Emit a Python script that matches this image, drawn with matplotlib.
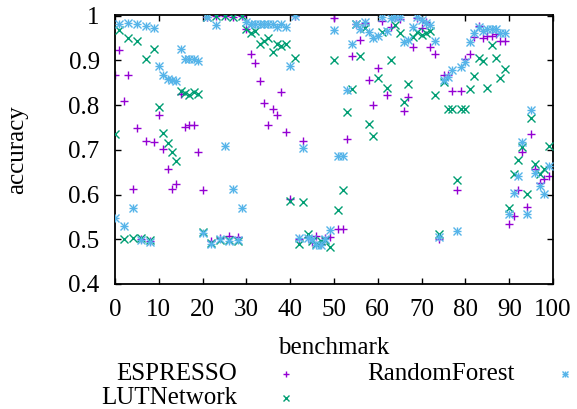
import numpy as np
import matplotlib
matplotlib.use("Agg")
import matplotlib.pyplot as plt
from matplotlib.lines import Line2D
from matplotlib.ticker import FormatStrFormatter

# accuracy per benchmark
espresso = [
    0.868, 0.924, 0.810, 0.866, 0.612, 0.749, 0.501, 0.719, 0.497, 0.717,
    0.778, 0.701, 0.657, 0.613, 0.623, 0.824, 0.751, 0.755, 0.755, 0.696,
    0.609, 0.997, 0.495, 0.998, 0.503, 0.998, 0.507, 0.997, 0.504, 0.998,
    0.970, 0.915, 0.894, 0.854, 0.805, 0.755, 0.790, 0.777, 0.828, 0.739,
    0.590, 0.999, 0.500, 0.720, 0.505, 0.493, 0.507, 0.490, 0.502, 0.506,
    0.994, 0.523, 0.524, 0.724, 0.910, 0.980, 0.946, 0.984, 0.856, 0.800,
    0.883, 0.988, 0.822, 0.975, 0.997, 0.992, 0.787, 0.817, 0.929, 0.995,
    0.973, 0.985, 0.930, 0.913, 0.500, 0.867, 0.867, 0.831, 0.610, 0.831,
    0.902, 0.913, 0.951, 0.977, 0.949, 0.954, 0.955, 0.958, 0.944, 0.942,
    0.535, 0.552, 0.609, 0.695, 0.571, 0.736, 0.658, 0.625, 0.634, 0.641,
]
lutnetwork = [
    0.735, 0.968, 0.500, 0.950, 0.503, 0.943, 0.503, 0.903, 0.498, 0.925,
    0.796, 0.737, 0.716, 0.696, 0.675, 0.832, 0.826, 0.823, 0.828, 0.825,
    0.516, 0.997, 0.492, 0.999, 0.498, 0.999, 0.498, 0.997, 0.496, 0.999,
    0.970, 0.960, 0.965, 0.936, 0.943, 0.949, 0.919, 0.936, 0.931, 0.936,
    0.586, 0.904, 0.490, 0.583, 0.511, 0.497, 0.490, 0.495, 0.498, 0.483,
    0.901, 0.565, 0.611, 0.784, 0.836, 0.980, 0.909, 0.971, 0.757, 0.731,
    0.861, 0.964, 0.837, 0.901, 0.979, 0.961, 0.807, 0.848, 0.952, 0.964,
    0.956, 0.961, 0.966, 0.822, 0.511, 0.852, 0.790, 0.790, 0.632, 0.790,
    0.790, 0.835, 0.865, 0.906, 0.899, 0.839, 0.934, 0.904, 0.861, 0.880,
    0.569, 0.646, 0.677, 0.707, 0.602, 0.772, 0.668, 0.645, 0.656, 0.709,
]
randomforest = [
    0.547, 0.981, 0.530, 0.984, 0.570, 0.980, 0.498, 0.976, 0.493, 0.973,
    0.887, 0.867, 0.857, 0.856, 0.854, 0.925, 0.903, 0.903, 0.903, 0.898,
    0.515, 0.997, 0.490, 0.978, 0.500, 0.709, 0.497, 0.612, 0.498, 0.570,
    0.986, 0.980, 0.980, 0.980, 0.980, 0.980, 0.980, 0.975, 0.980, 0.975,
    0.887, 0.999, 0.502, 0.704, 0.502, 0.500, 0.487, 0.487, 0.500, 0.520,
    0.968, 0.685, 0.685, 0.833, 0.937, 0.982, 0.970, 0.986, 0.964, 0.949,
    0.955, 0.997, 0.966, 0.995, 0.997, 0.997, 0.940, 0.945, 0.975, 0.997,
    0.990, 0.983, 0.978, 0.942, 0.506, 0.855, 0.862, 0.878, 0.518, 0.884,
    0.897, 0.940, 0.960, 0.974, 0.966, 0.970, 0.970, 0.970, 0.962, 0.960,
    0.557, 0.604, 0.641, 0.718, 0.557, 0.789, 0.647, 0.619, 0.601, 0.664,
]
benchmarks = np.arange(len(espresso))

plt.rcParams['font.family'] = ['Liberation Serif', 'DejaVu Serif']
plt.rcParams['font.size'] = 18

W, H = 577, 409
fig = plt.figure(figsize=(W / 100, H / 100), dpi=100)
ax = fig.add_axes([115 / W, 1 - 284 / H, 438 / W, 268.5 / H])

# gnuplot point types: 1 = plus, 2 = cross, 3 = plus and cross together
series = [
    ("ESPRESSO", espresso, "#9400d3", ["+"]),
    ("LUTNetwork", lutnetwork, "#009e73", ["x"]),
    ("RandomForest", randomforest, "#56b4e9", ["+", "x"]),
]
for i, (name, vals, col, mks) in enumerate(series):
    for mk in mks:
        ax.plot(benchmarks, vals, linestyle="none", marker=mk, color=col,
                markersize=6, markeredgewidth=1.0, zorder=2 + i)

ax.set_xlim(0, 100)
ax.set_ylim(0.4, 1.0)
ax.set_xticks(np.arange(0, 101, 10))
ax.set_yticks(np.arange(0.4, 1.01, 0.1))
ax.yaxis.set_major_formatter(FormatStrFormatter('%g'))
ax.tick_params(direction="in", length=4, width=1, top=True, right=True, pad=11)
for s in ax.spines.values():
    s.set_linewidth(1.3)

ax.set_xlabel("benchmark", va="center")
ax.xaxis.set_label_coords(0.5, (284 - 348) / 268.5)
ax.set_ylabel("accuracy", va="center")
ax.yaxis.set_label_coords((17 - 115) / 438, 0.5)

# gnuplot-style key: right aligned text followed by the sample point
key = [(237, 374, 286), (237, 398, 286), (515, 374, 565)]
for (name, vals, col, mks), (tx, ty, mx) in zip(series, key):
    fig.text(tx / W, 1 - ty / H, name, ha="right", va="center")
    for mk in mks:
        fig.add_artist(Line2D([mx / W], [1 - ty / H], transform=fig.transFigure,
                              linestyle="none", marker=mk, color=col,
                              markersize=5, markeredgewidth=1.0))

fig.savefig("out.png", dpi=100)
